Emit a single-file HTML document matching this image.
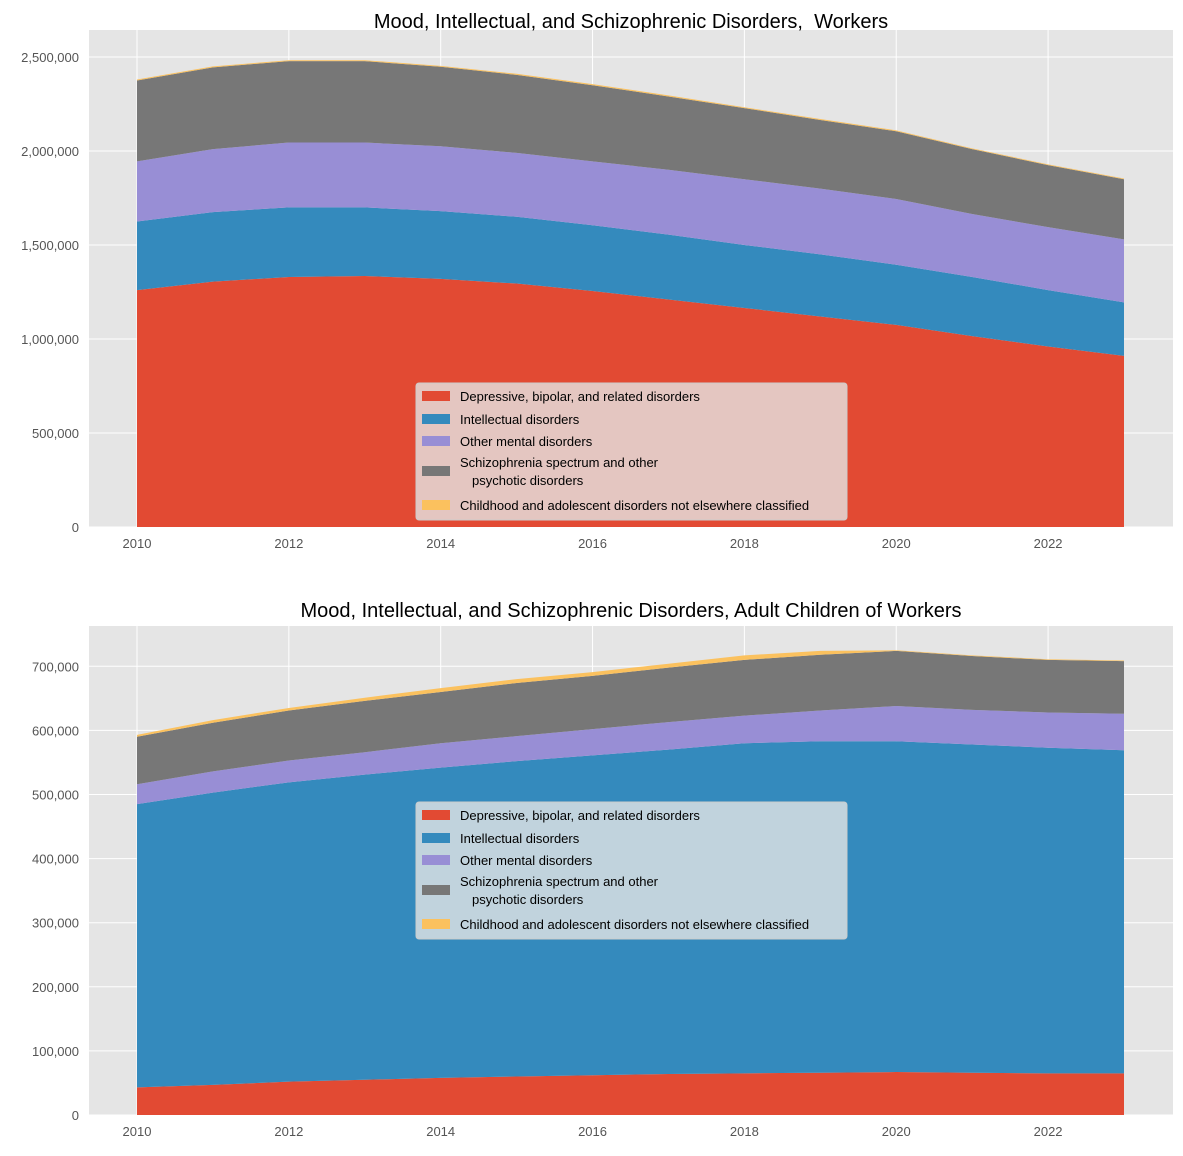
<!DOCTYPE html>
<html><head><meta charset="utf-8"><style>
body{margin:0;background:#fff;font-family:"Liberation Sans",sans-serif}
svg text{font-family:"Liberation Sans",sans-serif;white-space:pre}
</style></head><body>
<svg id="fig" width="1183" height="1151" xmlns="http://www.w3.org/2000/svg"></svg>
<script>
const years=[2010,2011,2012,2013,2014,2015,2016,2017,2018,2019,2020,2021,2022,2023];
const seriesNames=["Depressive, bipolar, and related disorders","Intellectual disorders","Other mental disorders","Schizophrenia spectrum and other|psychotic disorders","Childhood and adolescent disorders not elsewhere classified"];
const colors=["#E24A33","#348ABD","#988ED5","#777777","#FBC15E"];
// Workers
const wDep=[1260000,1305000,1330000,1335000,1320000,1295000,1255000,1210000,1165000,1120000,1075000,1015000,960000,910000];
const wInt=[365000,370000,370000,365000,360000,355000,350000,345000,335000,330000,320000,315000,300000,285000];
const wOth=[320000,335000,345000,345000,345000,340000,340000,345000,350000,350000,350000,335000,335000,335000];
const wSch=[430000,435000,433000,433000,423000,415000,405000,390000,378000,365000,360000,345000,330000,320000];
const wChi=[5000,5000,5000,5000,5000,6000,6000,6000,5000,5000,5000,4000,4000,4000];
const wTicks=[0,500000,1000000,1500000,2000000,2500000];
// Adult children
const aDep=[43000,47000,52000,55000,58000,60000,62000,64000,65000,66000,67000,66000,65000,65000];
const aInt=[442000,456000,467000,476000,484000,492000,499000,506000,515000,517000,516000,512000,508000,504000];
const aOth=[31000,33000,34000,35000,38000,39000,41000,43000,43000,48000,55000,54000,55000,57000];
const aSch=[74000,76000,78000,80000,80000,83000,83000,85000,87000,87000,86000,84000,82000,82000];
const aChi=[3000,4000,4000,5000,6000,6000,6000,6000,7000,6000,1000,1000,1000,1000];
const aTicks=[0,100000,200000,300000,400000,500000,600000,700000];
const xTicks=[2010,2012,2014,2016,2018,2020,2022];

const NS="http://www.w3.org/2000/svg";
const svg=document.getElementById('fig');
function mk(tag,attrs,parent){const e=document.createElementNS(NS,tag);for(const k in attrs)e.setAttribute(k,attrs[k]);(parent||svg).appendChild(e);return e;}
function fmt(v){return v.toLocaleString('en-US');}

function chart(cfg){
  const g=mk('g',{});
  
  
  const L=89,R=1173,T=cfg.top,B=cfg.bottom;
  const xs=y=>137+(y-2010)*(1124-137)/13;
  const ys=v=>cfg.y0-v*cfg.scale;
  const bg=mk('rect',{x:L,y:T,width:R-L,height:B-T,fill:'#E5E5E5'},g);
  
  
  for(const t of cfg.ticks){
    const y=ys(t);
    const ln=mk('line',{x1:L,x2:R,y1:y,y2:y,stroke:'#fff','stroke-width':1},g);
    
    
    const tx=mk('text',{x:L-10,y:y+5,'text-anchor':'end','font-size':13,fill:'#555'},g);
    tx.textContent=fmt(t);
    
    
  }
  for(const t of xTicks){
    const x=xs(t);
    const ln=mk('line',{x1:x,x2:x,y1:T,y2:B,stroke:'#fff','stroke-width':1},g);
    
    
    const tx=mk('text',{x:x,y:B+21,'text-anchor':'middle','font-size':13,fill:'#555'},g);
    tx.textContent=t;
    
    
  }
  let base=years.map(()=>0);
  cfg.series.forEach((s,i)=>{
    const top=base.map((b,j)=>b+s[j]);
    let d='M'+years.map((y,j)=>xs(y)+','+ys(top[j])).join(' L');
    for(let j=years.length-1;j>=0;j--)d+=' L'+xs(years[j])+','+ys(base[j]);
    d+='Z';
    const p=mk('path',{d:d,fill:colors[i]},g);
    
    
    base=top;
  });
  const ti=mk('text',{x:631,y:cfg.titleY,'text-anchor':'middle','font-size':20,fill:'#000'},g);
  ti.textContent=cfg.title;
  
  
  const lg=mk('g',{},g);
  
  
  const ly=cfg.legendTop;
  mk('rect',{x:416,y:ly,width:431,height:137,fill:cfg.legendFill,stroke:'#ccc','stroke-width':1,rx:3},lg);
  const rows=[ly+13,ly+36,ly+58,ly+88,ly+122];
  seriesNames.forEach((n,i)=>{
    const e=mk('g',{},lg);
    
    
    const ry=rows[i];
    mk('rect',{x:422,y:ry-5,width:28,height:10,fill:colors[i]},e);
    const parts=n.split('|');
    parts.forEach((pt,k)=>{
      const t=mk('text',{x:460+(k?12:0),y:ry+5+(parts.length>1?(k?9:-9):0),'font-size':13,fill:'#000'},e);
      t.textContent=pt;
    });
  });
}
chart({name:'workers-chart',title:'Mood, Intellectual, and Schizophrenic Disorders,  Workers',titleY:28,top:30,bottom:527,y0:527,scale:94/500000,ticks:wTicks,series:[wDep,wInt,wOth,wSch,wChi],legendTop:383,legendFill:'rgba(229,229,229,0.8)'});
chart({name:'adult-children-chart',title:'Mood, Intellectual, and Schizophrenic Disorders, Adult Children of Workers',titleY:617,top:626,bottom:1115,y0:1115,scale:641/1000000,ticks:aTicks,series:[aDep,aInt,aOth,aSch,aChi],legendTop:802,legendFill:'rgba(229,229,229,0.8)'});
</script>
</body></html>
